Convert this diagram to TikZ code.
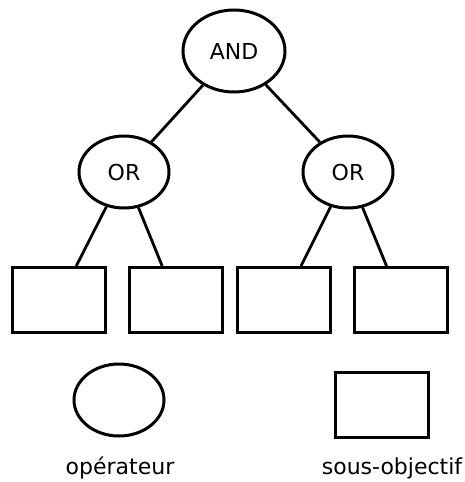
\documentclass[tikz,border=0pt]{standalone}
\usepackage{fontspec}
\setmainfont{DejaVu Sans}
\usetikzlibrary{shapes.geometric}
\begin{document}
\begin{tikzpicture}[x=1pt,y=-1pt,line width=3pt,
  font=\fontsize{22}{26}\selectfont,
  opnode/.style={draw,ellipse,inner sep=0pt,minimum width=90pt,minimum height=72pt},
  goalbox/.style={draw,rectangle,inner sep=0pt,minimum width=93pt,minimum height=65pt},
  link/.style={draw,line width=2.8pt}]
\useasboundingbox (0,0) rectangle (465,482);
\node[opnode,minimum width=102pt,minimum height=82pt] (and) at (234,51) {AND};
\node[opnode] (orl) at (124,172) {OR};
\node[opnode] (orr) at (348,172) {OR};
\node[goalbox] (g1) at (59,300) {};
\node[goalbox] (g2) at (176,300) {};
\node[goalbox] (g3) at (284,300) {};
\node[goalbox] (g4) at (400.5,300) {};
\node[opnode] (legop) at (119,400) {};
\node[goalbox] (leggoal) at (381.5,405) {};
\node (t1) at (120,468) {opérateur};
\node (t2) at (392,468) {sous-objectif};
\path[link] (and) -- (orl);
\path[link] (and) -- (orr);
\path[link] (orl) -- (g1);
\path[link] (orl) -- (g2);
\path[link] (orr) -- (g3);
\path[link] (orr) -- (g4);
\end{tikzpicture}
\end{document}
